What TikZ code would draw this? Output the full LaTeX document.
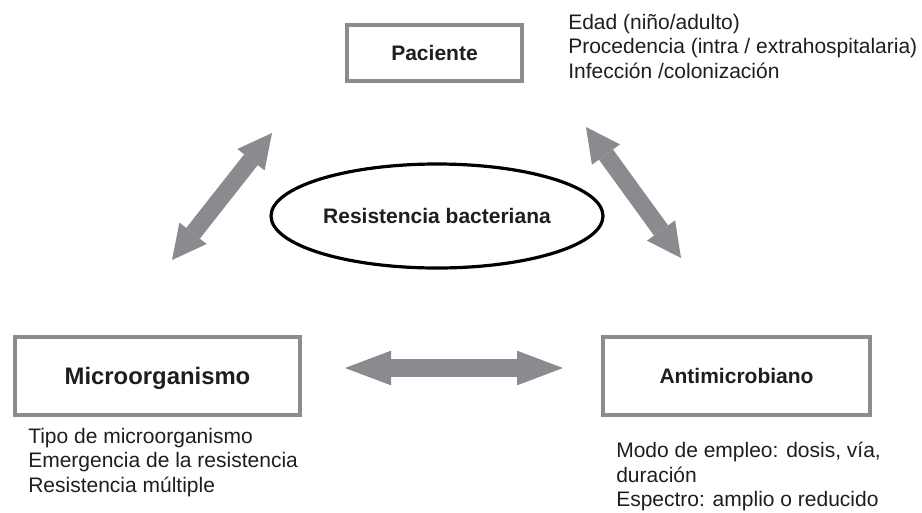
\documentclass[tikz,border=0pt]{standalone}
\usepackage{fontspec}
\setmainfont{Liberation Sans}
\usetikzlibrary{arrows.meta,shapes.geometric}
\definecolor{boxgray}{HTML}{8C8C8C}
\definecolor{arrowgray}{HTML}{8A8B8E}
\definecolor{ink}{HTML}{1E1E1E}

\begin{document}
\begin{tikzpicture}[x=0.75pt,y=-0.75pt,
	factor/.style={draw=boxgray,line width=3pt,fill=white,text=ink,
		font=\bfseries\fontsize{15.75}{18}\selectfont,text depth=0pt,inner sep=0pt},
	notes/.style={anchor=north west,align=left,inner sep=0pt,text=ink,
		font=\fontsize{15.75}{18.3}\selectfont},
	twoway/.style={draw=arrowgray,line width=13pt,
		{Triangle[length=#1,width=26pt,line width=0pt]}-{Triangle[length=#1,width=26pt,line width=0pt]}}]
\useasboundingbox (0,0) rectangle (922,512);

% the three factors
\node[factor,minimum width=131.25pt,minimum height=42pt] (paciente) at (434.5,53) {Paciente};
\node[factor,minimum width=213.75pt,minimum height=58.5pt,
	font=\bfseries\fontsize{17.9}{20}\selectfont] (micro) at (157.5,376) {Microorganismo};
\node[factor,minimum width=200.25pt,minimum height=58.5pt] (anti) at (736.5,376) {Antimicrobiano};

% centre
\node[ellipse,draw=black,line width=2.4pt,text=ink,inner sep=0pt,
	font=\bfseries\fontsize{15.75}{18}\selectfont,
	minimum width=249pt,minimum height=78pt] (resist) at (437,216) {Resistencia bacteriana};

% notes
\node[notes] (paciente-notes) at (568,14) {Edad (niño/adulto)\\Procedencia (intra / extrahospitalaria)\\Infección /colonización};
\node[notes] (micro-notes) at (28,428) {Tipo de microorganismo\\Emergencia de la resistencia\\Resistencia múltiple};
\node[notes] (anti-notes) at (616,442) {Modo de empleo: dosis, vía,\\duración\\Espectro: amplio o reducido};

% arrows
\coordinate (pm-a) at (272,133);
\coordinate (pm-b) at (172,260);
\coordinate (pa-a) at (586,127);
\coordinate (pa-b) at (681,258);
\coordinate (ma-a) at (345,368);
\coordinate (ma-b) at (563,368);
\draw[twoway=25.5pt] (pm-a) -- (pm-b);
\draw[twoway=25.5pt] (pa-a) -- (pa-b);
\draw[twoway=34.5pt] (ma-a) -- (ma-b);
\end{tikzpicture}
\end{document}
